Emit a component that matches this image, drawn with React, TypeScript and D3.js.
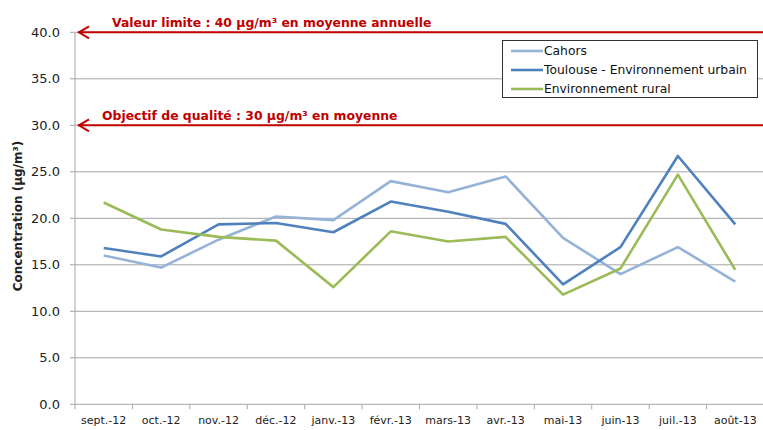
import React from 'react'
import * as d3 from 'd3'

const months = ['sept.-12', 'oct.-12', 'nov.-12', 'déc.-12', 'janv.-13', 'févr.-13', 'mars-13', 'avr.-13', 'mai-13', 'juin-13', 'juil.-13', 'août-13']
const cahors = [16.0, 14.7, 17.7, 20.2, 19.8, 24.0, 22.8, 24.5, 17.9, 14.0, 16.9, 13.2]
const toulouse = [16.8, 15.9, 19.35, 19.5, 18.5, 21.8, 20.7, 19.4, 12.9, 16.9, 26.7, 19.35]
const rural = [21.7, 18.8, 18.0, 17.6, 12.6, 18.6, 17.5, 18.0, 11.8, 14.6, 24.7, 14.45]
const yTicks = [0, 5, 10, 15, 20, 25, 30, 35, 40]
const seuils = [
  {value: 40, label: 'Valeur limite : 40 µg/m³ en moyenne annuelle', textX: 112},
  {value: 30, label: 'Objectif de qualité : 30 µg/m³ en moyenne', textX: 102},
]
const series = [
  {name: 'Cahors', values: cahors, color: '#95B3D7'},
  {name: 'Toulouse - Environnement urbain', values: toulouse, color: '#4F81BD'},
  {name: 'Environnement rural', values: rural, color: '#9BBB59'},
]

const FONT = '"DejaVu Sans", sans-serif'

export default function App() {
  const width = 763
  const height = 430
  const left = 75
  const right = 764
  const top = 32.3
  const bottom = 404.3

  const x = d3.scaleBand().domain(months).range([left, right])
  const y = d3.scaleLinear().domain([0, 40]).range([bottom, top])
  const line = d3.line<number>()
    .x((d, i) => x(months[i])! + x.bandwidth() / 2)
    .y(d => y(d))

  const bounds = x.range()
  const ticksX = months.map(m => x(m)!).concat([bounds[1]])

  return <svg width={width} height={height} style={{position: 'absolute', left: 0, top: 0, fontFamily: FONT}}>
    <rect width={width} height={height} fill='white' />
    {yTicks.map(t => <g key={t}>
      {t > 0 && <line x1={left} x2={right} y1={y(t)} y2={y(t)} stroke='#a6a6a6' strokeWidth={1} />}
      <line x1={left - 5} x2={left} y1={y(t)} y2={y(t)} stroke='#a6a6a6' />
      <text x={60} y={y(t)} dy='0.35em' textAnchor='end' fontSize={13} fill='#222'>{t.toFixed(1)}</text>
    </g>)}
    <line x1={left} x2={left} y1={top} y2={bottom} stroke='#a6a6a6' />
    <line x1={left} x2={right} y1={bottom} y2={bottom} stroke='#a6a6a6' />
    {ticksX.map((tx, i) => <line key={i} x1={tx} x2={tx} y1={bottom} y2={bottom + 5} stroke='#a6a6a6' />)}
    {months.map(m => <text key={m} x={x(m)! + x.bandwidth() / 2} y={424} textAnchor='middle' fontSize={11} fill='#222'>{m}</text>)}
    <text transform={`translate(22, 216) rotate(-90)`} textAnchor='middle' fontSize={12} fontWeight='bold' fill='#222'>Concentration (µg/m³)</text>

    {seuils.map(s => <g key={s.value}>
      <line x1={left + 3} x2={right} y1={y(s.value)} y2={y(s.value)} stroke='#C00000' strokeWidth={2} />
      <path d={`M${left + 14},${y(s.value) - 6} L${left + 4},${y(s.value)} L${left + 14},${y(s.value) + 6}`} fill='none' stroke='#C00000' strokeWidth={2} />
      <text x={s.textX} y={y(s.value) - 5} fontSize={12.4} fontWeight='bold' fill='#C00000'>{s.label}</text>
    </g>)}

    {series.map(s => <path key={s.name} d={line(s.values)!} fill='none' stroke={s.color} strokeWidth={2.6} strokeLinejoin='round' />)}

    <rect x={502.5} y={40.5} width={255} height={57} fill='white' stroke='#333' strokeWidth={1} />
    {series.map((s, i) => <g key={s.name} transform={`translate(511, ${51 + i * 19})`}>
      <line x1={0} x2={32} y1={0} y2={0} stroke={s.color} strokeWidth={2.6} />
      <text x={33} y={0} dy='0.35em' fontSize={12.3} fill='#111'>{s.name}</text>
    </g>)}
  </svg>
}
